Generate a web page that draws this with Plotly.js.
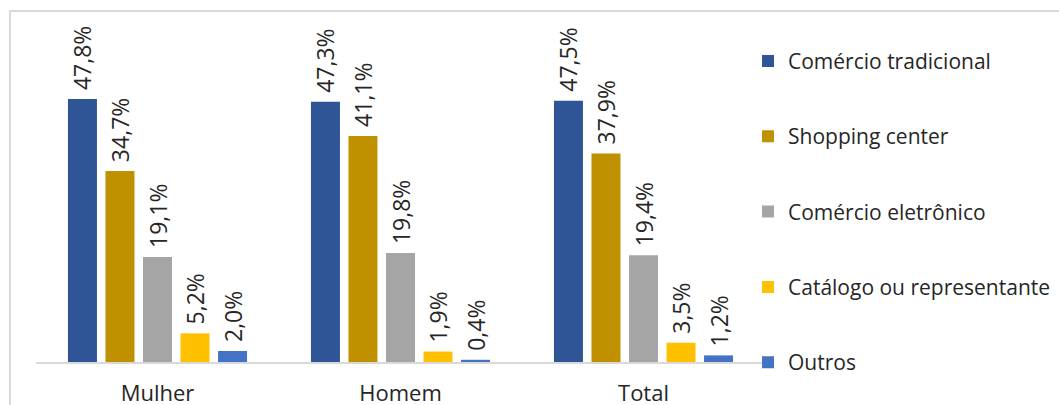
<!DOCTYPE html>
<html>
<head>
<meta charset="utf-8">
<script src="https://cdn.plot.ly/plotly-3.0.1.min.js"></script>
<style>html,body{margin:0;padding:0;background:#fff;}#chart{width:1059px;height:405px;}</style>
</head>
<body>
<div id="chart"></div>
<script>
const categories = ["Mulher", "Homem", "Total"];
const seriesNames = ["Comércio tradicional", "Shopping center", "Comércio eletrônico", "Catálogo ou representante", "Outros"];
const comercioTradicional = [47.8, 47.3, 47.5];
const shoppingCenter = [34.7, 41.1, 37.9];
const comercioEletronico = [19.1, 19.8, 19.4];
const catalogo = [5.2, 1.9, 3.5];
const outros = [2.0, 0.4, 1.2];
const colors = ["#2F5597", "#BF9000", "#A5A5A5", "#FFC000", "#4472C4"];

const allSeries = [comercioTradicional, shoppingCenter, comercioEletronico, catalogo, outros];
const fmt = v => " " + v.toFixed(1).replace(".", ",") + "%";
const FONT = "Open Sans, sans-serif";
const TXT = "#262626";

const traces = allSeries.map((vals, i) => ({
  type: "bar",
  name: seriesNames[i],
  x: categories,
  y: vals,
  text: vals.map(fmt),
  textposition: "outside",
  textangle: -90,
  constraintext: "none",
  cliponaxis: false,
  outsidetextfont: {family: FONT, size: 23, color: TXT},
  marker: {color: colors[i], line: {width: 0}},
  legendgroup: "g" + i,
  hoverinfo: "none"
}));

const layout = {
  width: 1059, height: 405,
  margin: {l: 36, r: 294, t: 11, b: 43, pad: 0, autoexpand: false},
  paper_bgcolor: "#ffffff", plot_bgcolor: "#ffffff",
  barmode: "group", bargap: 0.228, bargroupgap: 0.227,
  font: {family: FONT, size: 21, color: TXT},
  xaxis: {
    showline: true, linecolor: "#d9d9d9", linewidth: 2,
    ticks: "outside", ticklen: 11, tickcolor: "rgba(0,0,0,0)",
    tickfont: {family: FONT, size: 22, color: TXT},
    showgrid: false, zeroline: false, fixedrange: true, automargin: false
  },
  yaxis: {range: [0, 63.8], visible: false, showgrid: false, zeroline: false, fixedrange: true, automargin: false},
  showlegend: true,
  legend: {
    x: 0.9767, xanchor: "left", y: 0.915, yanchor: "top",
    font: {family: FONT, size: 21, color: TXT},
    tracegroupgap: 45, traceorder: "grouped",
    bgcolor: "rgba(0,0,0,0)", itemclick: false, itemdoubleclick: false
  },
  shapes: [{
    type: "rect", xref: "paper", yref: "paper",
    x0: (10 - 36) / 729, x1: 2, y0: -1, y1: 1.0,
    line: {color: "#d9d9d9", width: 2}, fillcolor: "rgba(0,0,0,0)", layer: "below"
  }]
};

Plotly.newPlot("chart", traces, layout, {displayModeBar: false, staticPlot: true});
</script>
</body>
</html>
